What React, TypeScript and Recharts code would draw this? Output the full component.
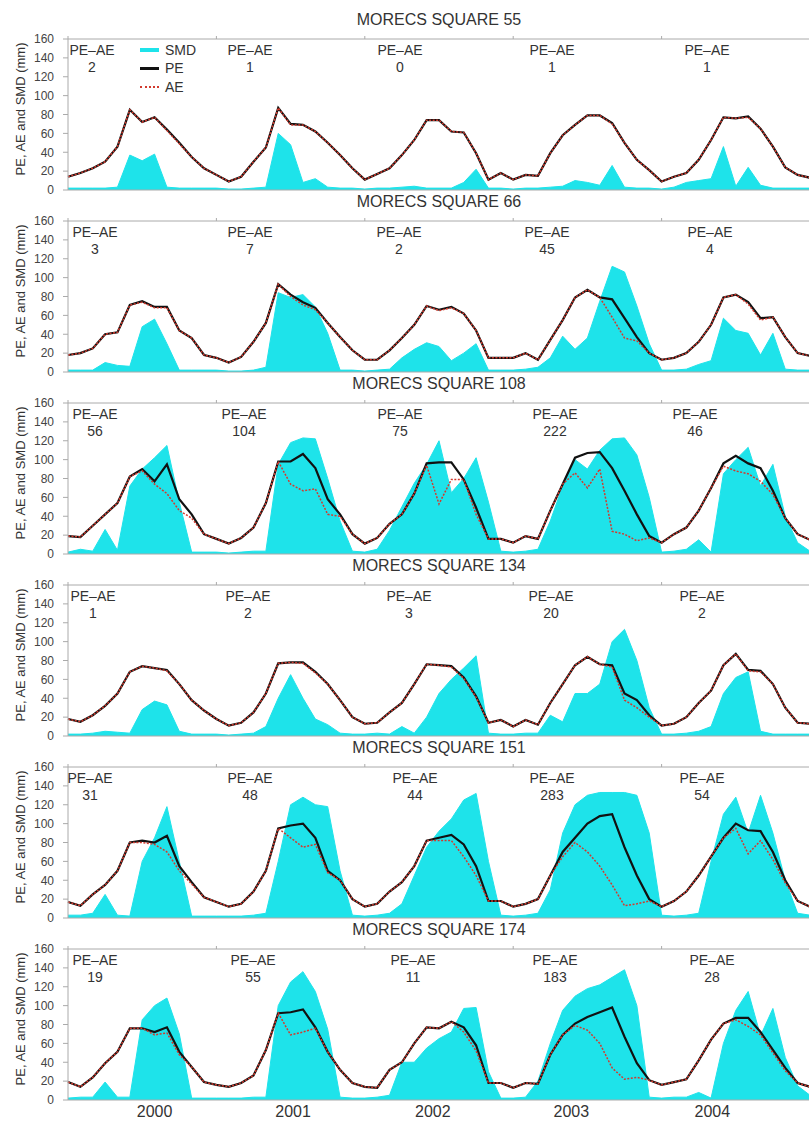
import React from 'react';
import { ComposedChart, Area, Line, XAxis, YAxis } from 'recharts';

// monthly values, Jan 2000 .. Jan 2005
const monthIndex = [...Array(61).keys()];
const yearLabels = ['2000', '2001', '2002', '2003', '2004'];
// where the year labels sit along the month axis in the original figure
const yearTicks = [7.0, 18.2, 29.5, 40.7, 52.1];
const yTicks = [0, 20, 40, 60, 80, 100, 120, 140, 160];

const sq55Pe = [14, 18, 23, 30, 46, 85, 72, 77, 64, 50, 35, 23, 16, 9, 14, 30, 45, 87, 70, 69, 62, 50, 37, 23, 11, 17, 23, 37, 53, 74, 74, 62, 61, 39, 11, 18, 11, 16, 15, 39, 58, 69, 79, 79, 71, 50, 32, 21, 9, 14, 18, 32, 53, 77, 76, 78, 65, 46, 24, 16, 13];
const sq55Ae = [14, 18, 23, 30, 46, 85, 72, 77, 63, 49, 35, 23, 16, 9, 14, 30, 45, 87, 69, 69, 62, 50, 37, 23, 11, 17, 23, 37, 53, 74, 74, 62, 61, 39, 11, 18, 11, 16, 15, 39, 58, 69, 79, 79, 70, 50, 32, 21, 9, 14, 18, 32, 53, 77, 76, 77, 65, 46, 24, 16, 13];
const sq55Smd = [2, 2, 2, 2, 3, 37, 31, 38, 3, 2, 2, 2, 2, 1, 1, 2, 3, 60, 48, 8, 12, 3, 2, 2, 1, 2, 2, 3, 4, 2, 2, 2, 8, 22, 2, 2, 1, 2, 2, 3, 4, 10, 8, 5, 26, 3, 2, 2, 1, 3, 8, 10, 12, 46, 4, 24, 5, 2, 2, 2, 2];

const sq66Pe = [18, 20, 25, 40, 42, 71, 75, 69, 69, 44, 36, 18, 15, 10, 16, 32, 52, 93, 82, 74, 68, 52, 37, 23, 13, 13, 23, 36, 50, 70, 66, 69, 62, 44, 15, 15, 15, 20, 13, 34, 55, 79, 87, 79, 77, 57, 37, 20, 13, 15, 20, 32, 50, 79, 82, 74, 57, 58, 37, 20, 17];
const sq66Ae = [18, 20, 25, 40, 42, 71, 74, 68, 68, 44, 36, 18, 15, 10, 16, 32, 52, 93, 80, 71, 66, 52, 37, 23, 13, 13, 23, 36, 50, 70, 65, 68, 62, 44, 15, 15, 15, 20, 13, 34, 55, 79, 87, 79, 58, 36, 33, 20, 13, 15, 20, 32, 50, 79, 82, 72, 55, 58, 37, 20, 17];
const sq66Smd = [2, 2, 2, 10, 7, 6, 48, 56, 30, 2, 2, 2, 2, 1, 1, 2, 5, 84, 79, 82, 69, 41, 2, 2, 1, 2, 3, 15, 24, 31, 27, 12, 20, 30, 2, 2, 2, 3, 5, 15, 38, 24, 36, 75, 112, 106, 70, 30, 2, 2, 3, 8, 12, 57, 44, 41, 18, 41, 3, 2, 2];

const sq108Pe = [19, 18, 30, 42, 54, 82, 90, 77, 95, 58, 42, 21, 16, 11, 17, 28, 54, 98, 98, 106, 91, 58, 42, 21, 11, 17, 32, 42, 64, 96, 97, 97, 79, 49, 16, 16, 12, 19, 16, 46, 74, 102, 107, 108, 91, 67, 42, 19, 12, 21, 28, 46, 70, 96, 104, 96, 91, 67, 38, 21, 15];
const sq108Ae = [19, 18, 30, 42, 54, 82, 88, 74, 64, 46, 38, 21, 16, 11, 17, 28, 54, 98, 74, 67, 69, 42, 40, 21, 11, 17, 32, 42, 64, 94, 53, 79, 79, 42, 16, 16, 12, 19, 16, 46, 74, 86, 70, 90, 24, 21, 14, 17, 12, 21, 28, 46, 70, 93, 88, 85, 77, 63, 38, 21, 15];
const sq108Smd = [2, 5, 3, 26, 4, 72, 90, 102, 115, 55, 2, 2, 2, 1, 2, 3, 3, 95, 118, 123, 122, 80, 35, 3, 2, 5, 25, 50, 75, 95, 120, 65, 80, 102, 55, 3, 2, 3, 5, 35, 72, 100, 90, 110, 122, 123, 105, 60, 2, 3, 5, 15, 2, 85, 100, 113, 72, 95, 40, 12, 3];

const sq134Pe = [18, 15, 22, 32, 45, 68, 74, 72, 70, 55, 38, 27, 18, 11, 14, 25, 45, 77, 78, 78, 68, 55, 38, 20, 13, 14, 25, 35, 55, 76, 75, 74, 62, 42, 14, 17, 10, 17, 12, 35, 55, 75, 84, 76, 75, 45, 38, 22, 11, 13, 20, 35, 48, 75, 87, 70, 69, 55, 30, 14, 13];
const sq134Ae = [18, 15, 22, 32, 45, 68, 74, 72, 69, 55, 38, 27, 18, 11, 14, 25, 45, 77, 78, 77, 67, 55, 38, 20, 13, 14, 25, 35, 55, 76, 75, 73, 61, 41, 14, 17, 10, 17, 12, 35, 55, 75, 84, 76, 73, 38, 30, 20, 11, 13, 20, 35, 48, 75, 87, 69, 68, 55, 30, 14, 13];
const sq134Smd = [2, 2, 3, 5, 4, 3, 28, 37, 33, 5, 2, 2, 2, 1, 2, 3, 10, 40, 65, 40, 18, 12, 3, 2, 2, 3, 2, 10, 3, 20, 45, 60, 72, 85, 3, 2, 2, 3, 3, 22, 15, 45, 45, 55, 100, 113, 80, 30, 2, 2, 3, 5, 10, 45, 62, 68, 5, 2, 2, 2, 2];

const sq151Pe = [17, 13, 25, 35, 50, 80, 82, 80, 87, 55, 38, 22, 17, 12, 15, 28, 50, 95, 98, 100, 85, 50, 40, 20, 12, 15, 28, 38, 55, 82, 85, 88, 78, 55, 18, 18, 12, 15, 20, 45, 70, 85, 100, 108, 110, 75, 45, 20, 12, 18, 28, 45, 65, 85, 100, 93, 92, 70, 40, 18, 12];
const sq151Ae = [17, 13, 25, 35, 50, 80, 80, 78, 70, 50, 36, 22, 17, 12, 15, 28, 50, 95, 85, 75, 78, 48, 40, 20, 12, 15, 28, 38, 55, 82, 82, 82, 65, 45, 18, 18, 12, 15, 20, 45, 65, 80, 70, 55, 35, 13, 15, 18, 12, 18, 28, 45, 65, 85, 95, 68, 82, 62, 37, 18, 12];
const sq151Smd = [3, 3, 5, 25, 3, 2, 60, 85, 118, 60, 2, 2, 2, 2, 2, 3, 5, 60, 120, 128, 120, 118, 50, 3, 2, 3, 5, 15, 45, 75, 92, 105, 125, 132, 60, 3, 2, 3, 5, 30, 90, 120, 130, 133, 133, 133, 130, 90, 3, 2, 3, 5, 60, 110, 128, 90, 130, 90, 40, 5, 3];

const sq174Pe = [19, 14, 24, 39, 51, 76, 76, 72, 77, 51, 35, 19, 16, 14, 18, 26, 53, 92, 93, 96, 77, 51, 32, 18, 14, 13, 32, 40, 60, 77, 76, 83, 77, 58, 18, 18, 13, 18, 17, 48, 69, 81, 88, 93, 98, 67, 39, 21, 16, 19, 22, 42, 64, 81, 87, 87, 72, 53, 34, 18, 14];
const sq174Ae = [19, 14, 24, 39, 51, 76, 76, 69, 71, 48, 35, 19, 16, 14, 18, 26, 53, 92, 69, 72, 76, 51, 32, 18, 14, 13, 32, 40, 60, 77, 76, 83, 72, 52, 18, 18, 13, 18, 17, 48, 69, 79, 74, 60, 34, 22, 24, 21, 16, 19, 22, 42, 64, 81, 85, 78, 69, 50, 31, 18, 14];
const sq174Smd = [2, 3, 3, 19, 3, 3, 85, 100, 108, 70, 2, 2, 2, 2, 2, 3, 3, 100, 125, 136, 115, 75, 3, 2, 2, 3, 5, 40, 40, 55, 65, 72, 97, 98, 30, 2, 2, 3, 20, 60, 95, 110, 118, 122, 130, 138, 100, 3, 2, 3, 3, 8, 2, 60, 95, 115, 68, 97, 45, 15, 5];

// annual PE - AE totals written in each panel
const diff55 = ['2', '1', '0', '1', '1'];
const diff66 = ['3', '7', '2', '45', '4'];
const diff108 = ['56', '104', '75', '222', '46'];
const diff134 = ['1', '2', '3', '20', '2'];
const diff151 = ['31', '48', '44', '283', '54'];
const diff174 = ['19', '55', '11', '183', '28'];

const panels = [
  { name: 'MORECS SQUARE 55', pe: sq55Pe, ae: sq55Ae, smd: sq55Smd, diffs: diff55, notesX: [92, 250, 400, 552, 707] },
  { name: 'MORECS SQUARE 66', pe: sq66Pe, ae: sq66Ae, smd: sq66Smd, diffs: diff66, notesX: [95, 250, 399, 547, 710] },
  { name: 'MORECS SQUARE 108', pe: sq108Pe, ae: sq108Ae, smd: sq108Smd, diffs: diff108, notesX: [95, 244, 400, 555, 695] },
  { name: 'MORECS SQUARE 134', pe: sq134Pe, ae: sq134Ae, smd: sq134Smd, diffs: diff134, notesX: [93, 248, 409, 551, 702] },
  { name: 'MORECS SQUARE 151', pe: sq151Pe, ae: sq151Ae, smd: sq151Smd, diffs: diff151, notesX: [90, 250, 415, 552, 702] },
  { name: 'MORECS SQUARE 174', pe: sq174Pe, ae: sq174Ae, smd: sq174Smd, diffs: diff174, notesX: [95, 253, 413, 555, 712] },
];

const SMD_COLOR = '#1ee3ea';
const AXIS_COLOR = '#aaaaaa';
const TEXT_COLOR = '#333333';
const PANEL_STEP = 182;

function Panel({ idx, panel, last }: { idx: number; panel: typeof panels[number]; last: boolean }) {
  const rows = monthIndex.map((m, i) => ({ m, smd: panel.smd[i], pe: panel.pe[i], ae: panel.ae[i] }));
  const top = idx * PANEL_STEP;
  // extra room under the plot so the "0" tick label is not clipped
  const h = last ? 212 : 200;
  return (
    <>
      <div style={{ position: 'absolute', left: 0, top, width: 812, height: h }}>
        <ComposedChart width={812} height={h} data={rows} margin={{ top: 38, right: 2, bottom: last ? 0 : 9, left: 0 }}>
          <XAxis
            xAxisId="top"
            orientation="top"
            type="number"
            dataKey="m"
            domain={[0, 60]}
            ticks={[0, 12, 24, 36, 48, 60]}
            height={1}
            tickSize={3}
            tickFormatter={() => ''}
            stroke={AXIS_COLOR}
          />
          <XAxis
            type="number"
            dataKey="m"
            domain={[0, 60]}
            ticks={last ? yearTicks : [0, 60]}
            height={last ? 22 : 1}
            tickLine={false}
            tickSize={4}
            tickMargin={2}
            interval={0}
            tickFormatter={(v: number) => (last ? yearLabels[yearTicks.indexOf(v)] ?? '' : '')}
            tick={{ fontSize: 16, fill: TEXT_COLOR }}
            stroke={AXIS_COLOR}
          />
          <YAxis
            type="number"
            domain={[0, 160]}
            ticks={yTicks}
            interval={0}
            width={68}
            tickSize={5}
            tickMargin={9}
            tick={{ fontSize: 12, fill: '#444' }}
            stroke={AXIS_COLOR}
          />
          <Area
            type="linear"
            dataKey="smd"
            stroke={SMD_COLOR}
            strokeWidth={1}
            fill={SMD_COLOR}
            fillOpacity={1}
            dot={false}
            activeDot={false}
            isAnimationActive={false}
          />
          <Line type="linear" dataKey="pe" stroke="#111111" strokeWidth={2.2} dot={false} activeDot={false} isAnimationActive={false} />
          <Line
            type="linear"
            dataKey="ae"
            stroke="#d23a2e"
            strokeWidth={1.5}
            strokeDasharray="2 1.5"
            dot={false}
            activeDot={false}
            isAnimationActive={false}
          />
        </ComposedChart>
      </div>
      <div style={{ position: 'absolute', left: 68, width: 742, top: top + 11, textAlign: 'center', fontSize: 16, lineHeight: '18px', color: TEXT_COLOR }}>
        {panel.name}
      </div>
      <div
        style={{
          position: 'absolute',
          left: 20,
          top: top + 109,
          transform: 'translate(-50%, -50%) rotate(-90deg)',
          whiteSpace: 'nowrap',
          fontSize: 13,
          color: TEXT_COLOR,
        }}
      >
        PE, AE and SMD (mm)
      </div>
      {panel.diffs.map((d, i) => (
        <div
          key={i}
          style={{
            position: 'absolute',
            left: panel.notesX[i],
            top: top + 42,
            transform: 'translateX(-50%)',
            textAlign: 'center',
            fontSize: 14,
            lineHeight: '17px',
            color: TEXT_COLOR,
            whiteSpace: 'nowrap',
          }}
        >
          <div>PE–AE</div>
          <div>{d}</div>
        </div>
      ))}
    </>
  );
}

function LegendBox() {
  const row = (y: number, swatch: React.ReactNode, text: string) => (
    <div style={{ position: 'absolute', left: 140, top: y - 9, height: 18, display: 'flex', alignItems: 'center' }}>
      <div style={{ width: 19, display: 'flex', alignItems: 'center' }}>{swatch}</div>
      <span style={{ marginLeft: 6, fontSize: 14, color: TEXT_COLOR }}>{text}</span>
    </div>
  );
  return (
    <>
      {row(50, <div style={{ width: 19, height: 4, background: SMD_COLOR }} />, 'SMD')}
      {row(68, <div style={{ width: 19, height: 3, background: '#111' }} />, 'PE')}
      {row(87, <div style={{ width: 19, borderTop: '2px dotted #d23a2e' }} />, 'AE')}
    </>
  );
}

export default function App() {
  return (
    <div
      style={{
        position: 'absolute',
        left: 0,
        top: 0,
        width: 809,
        height: 1122,
        overflow: 'hidden',
        background: '#fff',
        fontFamily: '"Liberation Sans", Arial, sans-serif',
      }}
    >
      {panels.map((p, i) => (
        <Panel key={p.name} idx={i} panel={p} last={i === panels.length - 1} />
      ))}
      <LegendBox />
    </div>
  );
}
